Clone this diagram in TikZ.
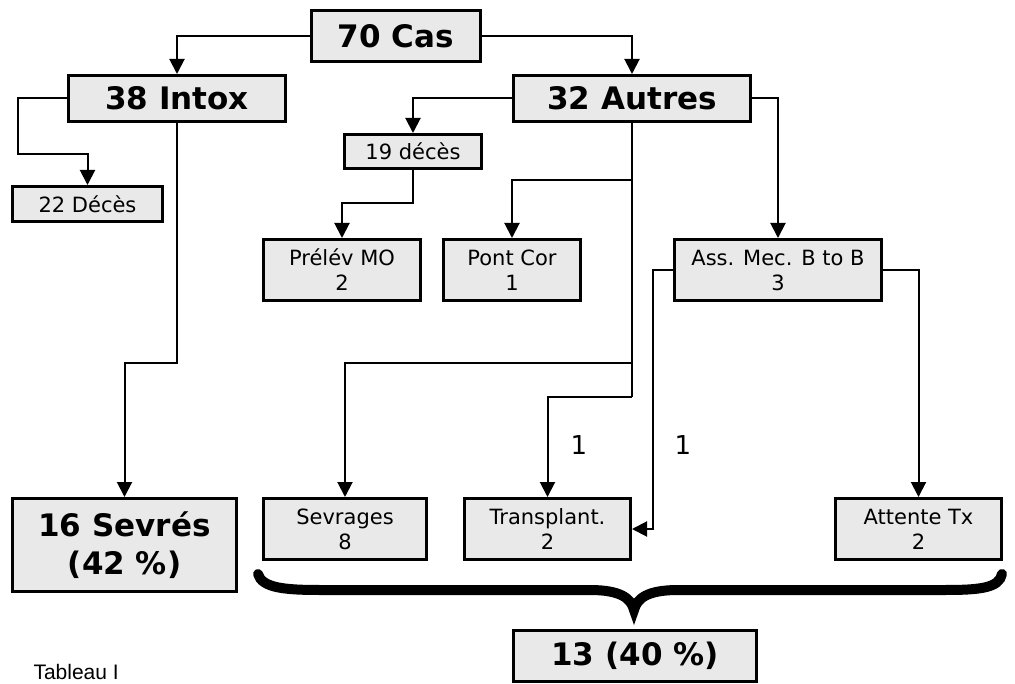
\documentclass[tikz,border=0pt]{standalone}
\usepackage{fontspec}
\setmainfont{DejaVu Sans}
\newfontfamily\arialfont{Liberation Sans}
\usetikzlibrary{arrows.meta}
\definecolor{boxfill}{RGB}{233,233,233}
\tikzset{
  box/.style={draw=black, line width=3pt, fill=boxfill, inner sep=0pt, align=center},
  bigbox/.style={box, font=\fontsize{31}{38}\selectfont\bfseries},
  smallbox/.style={box, font=\fontsize{21}{25}\selectfont},
  conn/.style={line width=2pt, -{Triangle[length=15pt,width=15pt]}},
  plain/.style={line width=2pt},
}
\begin{document}
\begin{tikzpicture}[x=1pt,y=-1pt]
\useasboundingbox (0,0) rectangle (1015,684);
% boxes
\node[bigbox, minimum width=169pt, minimum height=51pt] (cas) at (396,36) {70 Cas};
\node[bigbox, minimum width=217pt, minimum height=46pt] (intox) at (177,98.5) {38 Intox};
\node[bigbox, minimum width=237pt, minimum height=46pt] (autres) at (632,98.5) {32 Autres};
\node[smallbox, minimum width=150pt, minimum height=35pt] (d22) at (87.5,204) {22 Décès};
\node[smallbox, minimum width=137pt, minimum height=34pt] (d19) at (413,151.5) {19 décès};
\node[smallbox, minimum width=157pt, minimum height=61pt] (prelev) at (342,270) {Prélév MO\\2};
\node[smallbox, minimum width=137pt, minimum height=61pt] (pont) at (512,270) {Pont Cor\\1};
\node[smallbox, minimum width=207pt, minimum height=61pt] (ass) at (778,270) {Ass. Mec. B to B\\3};
\node[bigbox, minimum width=224pt, minimum height=93pt] (sevres) at (124.5,545) {16 Sevrés\\(42 \%)};
\node[smallbox, minimum width=163pt, minimum height=61pt] (sevrages) at (345,529) {Sevrages\\8};
\node[smallbox, minimum width=166pt, minimum height=61pt] (transp) at (547.5,529) {Transplant.\\2};
\node[smallbox, minimum width=166pt, minimum height=61pt] (attente) at (918.5,529) {Attente Tx\\2};
\node[bigbox, minimum width=243pt, minimum height=51pt] (res) at (635,656) {13 (40 \%)};
% labels
\node[font=\fontsize{26}{30}\selectfont] (one1) at (579,445) {1};
\node[font=\fontsize{26}{30}\selectfont] (one2) at (683,445) {1};
\node[font=\arialfont\fontsize{21}{24}\selectfont, anchor=west] (tab) at (30,672) {Tableau I};
% helper coordinates
\coordinate (ia) at (18,154);
\coordinate (ib) at (177,363);
\coordinate (ca) at (413,203);
\coordinate (aa) at (632,180);
\coordinate (ab) at (632,363);
\coordinate (ac) at (632,397);
\coordinate (ma) at (653,270);
% connectors
\draw[conn] (cas.west) -| (intox.north);
\draw[conn] (cas.east) -| (autres.north);
\draw[conn] (intox.west) -| (ia) -| (d22.north);
\draw[conn] (intox.south) -- (ib) -| (sevres.north);
\draw[conn] (autres.west) -| (d19.north);
\draw[conn] (d19.south) -- (ca) -| (prelev.north);
\draw[plain] (autres.south) -- (ac);
\draw[conn] (aa) -| (pont.north);
\draw[conn] (ab) -| (sevrages.north);
\draw[conn] (ac) -| (transp.north);
\draw[conn] (autres.east) -| (ass.north);
\draw[conn] (ass.west) -- (ma) |- (transp.east);
\draw[conn] (ass.east) -| (attente.north);
% brace
\draw[line width=10pt, line cap=round] (258,574) .. controls (262,588) and (285,590) .. (320,590)
  -- (590,590) .. controls (620,590) and (631,598) .. (634,610)
  .. controls (637,598) and (648,590) .. (678,590)
  -- (945,590) .. controls (980,590) and (999,588) .. (1002,574);
\end{tikzpicture}
\end{document}
